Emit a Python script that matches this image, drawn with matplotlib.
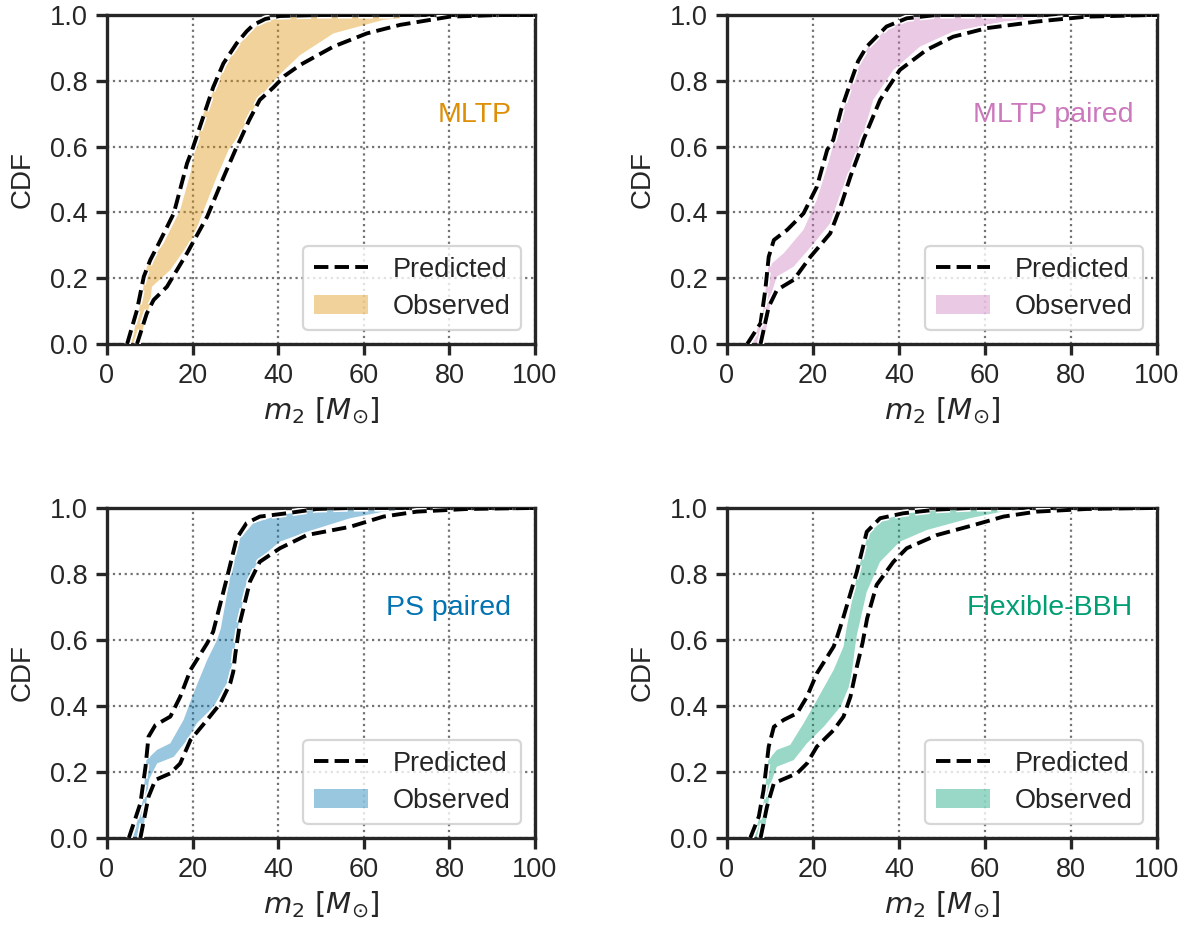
import numpy as np
import matplotlib
matplotlib.use("Agg")
import matplotlib.pyplot as plt
import matplotlib.patheffects as pe
from matplotlib.lines import Line2D
from matplotlib.patches import Patch

plt.rcParams['font.family'] = ['Liberation Sans', 'DejaVu Sans']
plt.rcParams['mathtext.fontset'] = 'dejavusans'

# ---------------- data ----------------
titles = ["MLTP", "MLTP paired", "PS paired", "Flexible-BBH"]
colors = ["#de8f05", "#cc78bc", "#0173b2", "#029e73"]

# MLTP
mltp_pred_hi_x = [4.7, 7.0, 8.6, 10.1, 12.5, 15.6, 18.7, 19.9, 21.7, 24.8, 27.2, 30.3, 32.6, 34.2, 37.0, 40.4, 50.0, 100.0]
mltp_pred_hi_y = [0.0, 0.103, 0.205, 0.255, 0.316, 0.397, 0.549, 0.59, 0.66, 0.78, 0.853, 0.914, 0.95, 0.97, 0.988, 0.997, 1.0, 1.0]
mltp_pred_lo_x = [7.0, 9.3, 10.9, 14.0, 18.7, 23.4, 27.3, 30.0, 31.1, 33.2, 35.7, 38.9, 41.5, 45.1, 52.9, 60.7, 68.5, 80.1, 91.8, 100.0]
mltp_pred_lo_y = [0.0, 0.093, 0.134, 0.174, 0.276, 0.387, 0.509, 0.59, 0.62, 0.68, 0.742, 0.78, 0.815, 0.848, 0.904, 0.944, 0.97, 0.995, 1.0, 1.0]
mltp_obs_l_x = [5.6, 8.0, 9.3, 13.2, 17.1, 19.5, 20.6, 22.5, 25.6, 28.3, 31.1, 35.7, 41.5, 50.0]
mltp_obs_l_y = [0.0, 0.134, 0.235, 0.306, 0.407, 0.519, 0.59, 0.70, 0.79, 0.86, 0.914, 0.975, 0.995, 1.0]
mltp_obs_r_x = [7.4, 10.1, 10.5, 14.8, 20.2, 22.6, 25.7, 28.4, 31.1, 35.7, 40.4, 45.1, 52.9, 64.5, 76.0]
mltp_obs_r_y = [0.0, 0.124, 0.174, 0.225, 0.326, 0.407, 0.509, 0.59, 0.64, 0.75, 0.82, 0.878, 0.944, 0.985, 1.0]

# MLTP paired
mltpp_pred_hi_x = [4.7, 7.8, 8.9, 9.7, 10.9, 14.0, 17.8, 20.9, 23.3, 24.7, 26.5, 28.6, 30.5, 32.5, 37.1, 41.8, 48.7, 100.0]
mltpp_pred_hi_y = [0.0, 0.063, 0.164, 0.265, 0.316, 0.347, 0.397, 0.478, 0.59, 0.62, 0.71, 0.79, 0.86, 0.904, 0.965, 0.99, 1.0, 1.0]
mltpp_pred_lo_x = [7.8, 9.7, 11.6, 15.5, 19.4, 24.0, 26.4, 28.7, 31.0, 31.7, 35.6, 40.2, 46.4, 52.6, 60.4, 72.0, 83.6, 99.0, 100.0]
mltpp_pred_lo_y = [0.0, 0.113, 0.164, 0.195, 0.265, 0.336, 0.417, 0.509, 0.59, 0.62, 0.742, 0.833, 0.894, 0.934, 0.96, 0.98, 0.995, 1.0, 1.0]
mltpp_obs_l_x = [6.0, 8.4, 9.6, 13.2, 17.8, 20.9, 23.3, 25.5, 28.8, 32.8, 37.4, 43.3, 52.6]
mltpp_obs_l_y = [0.0, 0.103, 0.235, 0.276, 0.347, 0.438, 0.539, 0.64, 0.79, 0.904, 0.96, 0.99, 1.0]
mltpp_obs_r_x = [8.6, 10.6, 11.6, 15.5, 20.2, 24.0, 26.4, 29.5, 30.6, 34.0, 38.7, 44.9, 52.6, 64.3, 75.9, 87.5]
mltpp_obs_r_y = [0.0, 0.164, 0.205, 0.235, 0.306, 0.367, 0.458, 0.559, 0.59, 0.742, 0.833, 0.904, 0.95, 0.98, 0.995, 1.0]

# PS paired
ps_pred_hi_x = [5.1, 7.8, 9.0, 9.7, 11.3, 14.8, 17.1, 19.5, 23.4, 24.8, 28.0, 30.3, 32.6, 35.7, 42.0, 49.0, 56.8, 100.0]
ps_pred_hi_y = [0.0, 0.105, 0.216, 0.307, 0.342, 0.368, 0.428, 0.509, 0.59, 0.625, 0.787, 0.908, 0.954, 0.974, 0.984, 0.997, 1.0, 1.0]
ps_pred_lo_x = [7.8, 9.7, 11.3, 14.8, 17.1, 19.5, 23.4, 26.5, 28.8, 29.5, 30.0, 31.1, 33.4, 35.7, 40.4, 46.7, 56.8, 64.6, 72.4, 84.1, 99.6, 100.0]
ps_pred_lo_y = [0.0, 0.125, 0.176, 0.196, 0.226, 0.297, 0.358, 0.408, 0.469, 0.504, 0.559, 0.655, 0.777, 0.837, 0.878, 0.918, 0.943, 0.974, 0.989, 0.997, 1.0, 1.0]
ps_obs_l_x = [6.0, 8.4, 9.2, 11.7, 14.8, 17.9, 20.2, 23.4, 25.7, 26.6, 28.7, 31.1, 34.2, 40.4, 49.0, 56.8]
ps_obs_l_y = [0.0, 0.115, 0.236, 0.267, 0.287, 0.358, 0.438, 0.539, 0.60, 0.635, 0.787, 0.908, 0.954, 0.979, 0.995, 1.0]
ps_obs_r_x = [8.3, 9.8, 11.7, 15.6, 18.7, 21.0, 24.9, 28.0, 29.3, 30.3, 32.6, 35.7, 40.4, 46.7, 56.8, 64.6, 72.4]
ps_obs_r_y = [0.0, 0.176, 0.226, 0.246, 0.297, 0.348, 0.398, 0.469, 0.53, 0.615, 0.777, 0.847, 0.898, 0.928, 0.969, 0.989, 1.0]

# Flexible-BBH
fb_pred_hi_x = [5.4, 7.4, 8.5, 9.7, 10.9, 13.2, 16.3, 18.6, 20.9, 24.8, 25.5, 27.0, 30.2, 32.5, 35.6, 41.0, 48.7, 56.4, 100.0]
fb_pred_hi_y = [0.0, 0.065, 0.145, 0.277, 0.337, 0.358, 0.378, 0.428, 0.499, 0.58, 0.605, 0.666, 0.807, 0.928, 0.969, 0.984, 0.995, 1.0, 1.0]
fb_pred_lo_x = [7.8, 9.3, 10.9, 16.3, 18.6, 20.9, 24.8, 27.1, 28.7, 30.2, 31.5, 32.6, 34.8, 38.7, 41.8, 48.8, 57.3, 64.3, 72.0, 83.6, 99.0, 100.0]
fb_pred_lo_y = [0.0, 0.095, 0.166, 0.196, 0.226, 0.277, 0.327, 0.368, 0.428, 0.519, 0.59, 0.666, 0.767, 0.837, 0.878, 0.918, 0.948, 0.974, 0.989, 0.997, 1.0, 1.0]
fb_obs_l_x = [6.0, 8.4, 9.6, 11.6, 14.7, 17.8, 20.9, 24.8, 27.1, 27.8, 30.4, 32.8, 36.4, 41.8, 52.6, 60.4]
fb_obs_l_y = [0.0, 0.095, 0.236, 0.267, 0.282, 0.347, 0.418, 0.509, 0.58, 0.635, 0.807, 0.92, 0.965, 0.984, 0.997, 1.0]
fb_obs_r_x = [8.6, 10.2, 11.6, 15.5, 18.6, 22.5, 26.4, 28.7, 29.8, 30.2, 32.5, 35.6, 40.2, 46.4, 56.5, 64.3, 72.0]
fb_obs_r_y = [0.0, 0.166, 0.216, 0.236, 0.287, 0.337, 0.398, 0.469, 0.58, 0.615, 0.746, 0.837, 0.898, 0.933, 0.969, 0.99, 1.0]

panels = [
    (mltp_pred_hi_x, mltp_pred_hi_y, mltp_pred_lo_x, mltp_pred_lo_y,
     mltp_obs_l_x, mltp_obs_l_y, mltp_obs_r_x, mltp_obs_r_y),
    (mltpp_pred_hi_x, mltpp_pred_hi_y, mltpp_pred_lo_x, mltpp_pred_lo_y,
     mltpp_obs_l_x, mltpp_obs_l_y, mltpp_obs_r_x, mltpp_obs_r_y),
    (ps_pred_hi_x, ps_pred_hi_y, ps_pred_lo_x, ps_pred_lo_y,
     ps_obs_l_x, ps_obs_l_y, ps_obs_r_x, ps_obs_r_y),
    (fb_pred_hi_x, fb_pred_hi_y, fb_pred_lo_x, fb_pred_lo_y,
     fb_obs_l_x, fb_obs_l_y, fb_obs_r_x, fb_obs_r_y),
]

xticks = [0, 20, 40, 60, 80, 100]
yticks = [0.0, 0.2, 0.4, 0.6, 0.8, 1.0]

# ---------------- figure ----------------
dark = "#262626"
fig = plt.figure(figsize=(11.92, 9.26), dpi=100)
W, H = 1192, 926
rects = [(107, 15, 535, 344), (727, 15, 1157, 344),
         (107, 508, 535, 838), (727, 508, 1157, 838)]

stroke = [pe.Stroke(linewidth=5.2, foreground="white"), pe.Normal()]

for i, (rect, data) in enumerate(zip(rects, panels)):
    x0, y0, x1, y1 = rect
    ax = fig.add_axes([x0 / W, 1 - y1 / H, (x1 - x0) / W, (y1 - y0) / H])
    hx, hy, lx, ly, olx, oly, orx, ory = data
    c = colors[i]
    polyx = np.concatenate([olx, orx[::-1]])
    polyy = np.concatenate([oly, ory[::-1]])
    ax.fill(polyx, polyy, color=c, alpha=0.4, lw=0, zorder=2)
    for xs, ys in ((hx, hy), (lx, ly)):
        ax.plot(xs, ys, color="black", ls="--", lw=2.8, zorder=3,
                path_effects=stroke, solid_joinstyle="round",
                dash_joinstyle="round")
    ax.set_xlim(0, 100)
    ax.set_ylim(0, 1)
    ax.set_xticks(xticks)
    ax.set_yticks(yticks)
    ax.set_yticklabels([f"{v:.1f}" for v in yticks])
    ax.grid(True, ls=":", color="0.45", lw=1.6, zorder=1)
    ax.set_axisbelow(True)
    for s in ax.spines.values():
        s.set_linewidth(2.4)
        s.set_color(dark)
    ax.tick_params(axis="both", which="major", length=8, width=2.4,
                   color=dark, labelcolor=dark, labelsize=19.5, pad=6)
    ax.set_xlabel(r"$m_2\ [M_{\odot}]$", fontsize=21, color=dark, labelpad=4)
    ax.set_ylabel("CDF", fontsize=20, color=dark, labelpad=10)
    ax.text(0.945, 0.696, titles[i], transform=ax.transAxes, ha="right",
            va="center", fontsize=20.5, color=c)
    handles = [Line2D([0], [0], color="black", ls="--", lw=2.8),
               Patch(facecolor=c, alpha=0.4, edgecolor="none")]
    leg = ax.legend(handles, ["Predicted", "Observed"], loc="lower right",
                    fontsize=19.5, frameon=True, handlelength=2.0,
                    borderpad=0.4, labelspacing=0.4, handletextpad=0.9)
    leg.get_frame().set_edgecolor("0.8")
    leg.get_frame().set_linewidth(1.6)
    for t in leg.get_texts():
        t.set_color(dark)

fig.savefig("out.png", dpi=100)
